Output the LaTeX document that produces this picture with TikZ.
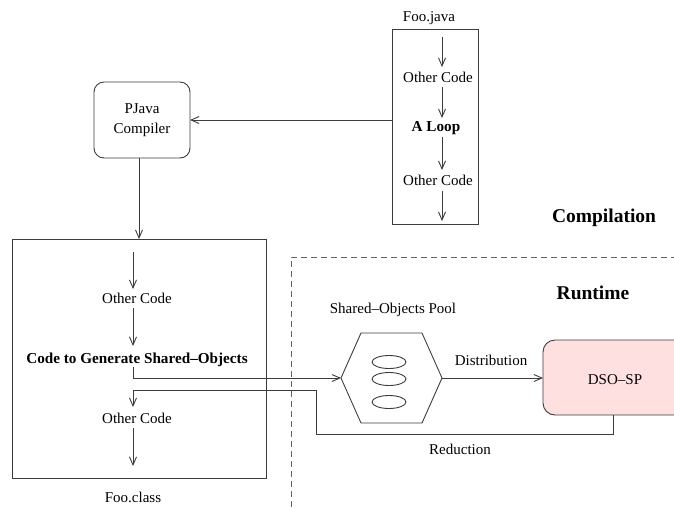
\documentclass[tikz,border=0pt]{standalone}
\usepackage{fontspec}
\setmainfont{Liberation Serif}
\usetikzlibrary{arrows.meta}
\definecolor{dsopink}{RGB}{255,224,224}
\definecolor{ln}{RGB}{60,60,60}
\begin{document}
\begin{tikzpicture}[x=1pt,y=-1pt,line width=0.9pt,
  txt/.style={font=\fontsize{15}{20}\selectfont,inner sep=0pt,text=black},
  btxt/.style={font=\fontsize{15.2}{20}\selectfont\bfseries,inner sep=0pt,text=black},
  big/.style={font=\fontsize{19.5}{22}\selectfont\bfseries,inner sep=0pt,text=black},
  arr/.style={draw=ln,-{Straight Barb[length=8pt,width=7pt]}},
  ln/.style={draw=ln},
  boxn/.style={draw=ln,inner sep=0pt,outer sep=0pt,anchor=north west},
  dsh/.style={draw=ln!80,dash pattern=on 6pt off 4pt}]
\useasboundingbox (0,0) rectangle (674,507);
\clip (0,0) rectangle (674,507);

% Foo.java
\node[txt] (javalbl) at (429,18) {Foo.java};
\node[boxn,minimum width=86pt,minimum height=195pt] (java) at (392,29) {};
\node[txt] (joc1) at (438,77) {Other Code};
\node[btxt] (jloop) at (436,128) {A Loop};
\node[txt] (joc2) at (438,180) {Other Code};
\coordinate (j1a) at (442,37);  \coordinate (j1b) at (442,67);
\coordinate (j2a) at (442,87);  \coordinate (j2b) at (442,118);
\coordinate (j3a) at (442,137); \coordinate (j3b) at (442,170);
\coordinate (j4a) at (442,191); \coordinate (j4b) at (442,221);
\draw[arr] (j1a) -- (j1b);
\draw[arr] (j2a) -- (j2b);
\draw[arr] (j3a) -- (j3b);
\draw[arr] (j4a) -- (j4b);

% PJava compiler
\node[draw=ln,rounded corners=10pt,minimum width=96pt,minimum height=76pt,
      align=center,txt,outer sep=0pt] (comp) at (142,120) {PJava\\Compiler};
\draw[arr] (java.west |- comp.east) -- (comp.east);

% Foo.class
\node[boxn,minimum width=254pt,minimum height=239pt] (cls) at (12,239) {};
\draw[arr] (comp.south -| cls.north) -- (cls.north);
\node[txt] (coc1) at (137,298) {Other Code};
\node[btxt] (cgen) at (137,360) {Code to Generate Shared–Objects};
\node[txt] (coc2) at (137,418) {Other Code};
\node[txt] (clslbl) at (133,497) {Foo.class};
\coordinate (c1a) at (133,252); \coordinate (c1b) at (133,289);
\coordinate (c2a) at (133,308); \coordinate (c2b) at (133,346);
\coordinate (c3a) at (133,428); \coordinate (c3b) at (133,466);
\coordinate (cf) at (133,367);
\coordinate (cr) at (133,407);
\draw[arr] (c1a) -- (c1b);
\draw[arr] (c2a) -- (c2b);
\draw[arr] (c3a) -- (c3b);

% separator
\coordinate (d0) at (291,507);
\coordinate (d1) at (291,257);
\coordinate (d2) at (674,257);
\draw[dsh] (d0) -- (d1) -- (d2);
\node[big] (compil) at (604,218) {Compilation};
\node[big] (runt) at (593,293) {Runtime};

% Shared objects pool
\node[txt] (pooll) at (393,310) {Shared–Objects Pool};
\coordinate (hexW) at (341,378);
\coordinate (hexE) at (442,378);
\draw[ln] (hexW) -- (361,333) -- (422,333) -- (hexE) -- (422,423) -- (361,423) -- cycle;
\draw[ln] (389,362) ellipse [x radius=17pt,y radius=6.5pt];
\draw[ln] (389,379) ellipse [x radius=17pt,y radius=6.5pt];
\draw[ln] (389,402) ellipse [x radius=17pt,y radius=6.5pt];

% DSO-SP
\node[boxn,fill=dsopink,rounded corners=12pt,minimum width=170pt,minimum height=75pt] (dso) at (543,340) {};
\node[txt] (dsol) at (615,380) {DSO–SP};

% connectors
\draw[arr] (cf) -- (cf |- hexW) -- (hexW);
\draw[arr] (hexE) -- (dso.west |- hexE);
\node[txt] (distl) at (491,360) {Distribution};
\coordinate (rd) at (613,415);
\draw[arr] (rd) -- (613,434) -- (316,434) -- (316,390) -- (133,390) -- (cr);
\node[txt] (redl) at (460,449) {Reduction};
\end{tikzpicture}
\end{document}
